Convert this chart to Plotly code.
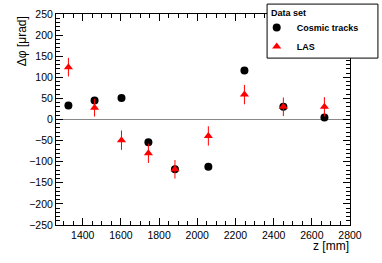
import plotly.graph_objects as go

z_cosmic = [1325, 1462, 1603, 1744, 1883, 2058, 2247, 2451, 2666]
dphi_cosmic = [33, 45, 51, -54, -118, -112, 116, 30, 5]

z_las = [1325, 1462, 1603, 1744, 1883, 2058, 2247, 2451, 2666]
dphi_las = [124, 28, -49, -80, -118, -39, 59, 30, 30]
err_las = [22, 21, 23, 23, 22, 23, 23, 22, 23]

FONT = "Liberation Sans, Arial, Helvetica, sans-serif"

fig = go.Figure()
fig.add_trace(go.Scatter(
    x=z_cosmic, y=dphi_cosmic, mode="markers", name="<b>Cosmic tracks</b>",
    marker=dict(symbol="circle", size=8, color="black"),
))
fig.add_trace(go.Scatter(
    x=z_las, y=dphi_las, mode="markers", name="<b>LAS</b>",
    marker=dict(symbol="triangle-up", size=8, color="red"),
    error_y=dict(type="data", array=err_las, color="red", thickness=1, width=0),
))

axis_common = dict(
    showline=True, linecolor="black", linewidth=1, mirror="ticks",
    ticks="inside", ticklen=7, tickcolor="black", showgrid=False,
    tickfont=dict(family=FONT, size=10.5, color="black"),
)

fig.update_xaxes(range=[1260, 2800], tick0=1400, dtick=200,
                 minor=dict(ticks="inside", ticklen=4, dtick=50, tick0=1300, tickcolor="black"),
                 zeroline=False, automargin=False, **axis_common)
fig.update_yaxes(range=[-250, 250], tick0=-250, dtick=50,
                 minor=dict(ticks="inside", ticklen=4, dtick=10, tick0=-250, tickcolor="black"),
                 zeroline=True, zerolinecolor="#888888", zerolinewidth=1, automargin=False,
                 **axis_common)

fig.update_layout(
    width=382, height=263,
    margin=dict(l=56, r=32, t=14, b=38, autoexpand=False),
    paper_bgcolor="white", plot_bgcolor="white",
    showlegend=True,
    legend=dict(
        xref="container", yref="container",
        x=0.672, y=0.951, xanchor="left", yanchor="top",
        bgcolor="rgba(0,0,0,0)", borderwidth=0,
        font=dict(family=FONT, size=9, color="black"),
        itemwidth=30, tracegroupgap=0,
    ),
    shapes=[dict(
        type="rect", xref="paper", yref="paper",
        x0=0.718, x1=1.095, y0=0.791, y1=1.047,
        line=dict(color="black", width=1), fillcolor="white", layer="above",
    )],
    annotations=[
        dict(text="<b>Data set</b>", xref="paper", yref="paper", x=0.725, y=1.005,
             xanchor="left", yanchor="middle", showarrow=False,
             font=dict(family=FONT, size=9, color="black")),
        dict(text="Δφ [μrad]", xref="paper", yref="paper", x=-0.115, y=1.0,
             xanchor="center", yanchor="top", textangle=-90, showarrow=False,
             font=dict(family=FONT, size=12, color="black")),
        dict(text="z [mm]", xref="paper", yref="paper", x=1.005, y=-0.1,
             xanchor="right", yanchor="middle", showarrow=False,
             font=dict(family=FONT, size=12, color="black")),
    ],
)

fig.write_html("out.html", config={"displayModeBar": False},
               post_script="document.body.style.margin='0';")
